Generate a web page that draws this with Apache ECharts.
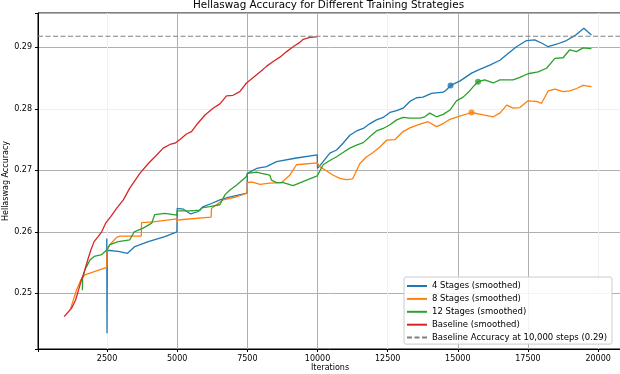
<!DOCTYPE html>
<html>
<head>
<meta charset="utf-8">
<script src="https://cdn.jsdelivr.net/npm/echarts@6/dist/echarts.min.js"></script>
<style>
  html, body { margin: 0; padding: 0; background: #fff; }
  #chart { width: 620px; height: 374px; }
</style>
</head>
<body>
<div id="chart"></div>
<script>
// [iteration, accuracy]
const stage4 = [
  [2490,0.2589],[2500,0.2435],[2510,0.2570],[2900,0.2568],[3230,0.2565],[3490,0.2576],[3970,0.2584],[4560,0.2592],[4990,0.2600],
  [5000,0.2638],[5210,0.2637],[5480,0.2629],[5750,0.2633],[5930,0.2641],[6220,0.2646],[6520,0.2652],[6820,0.2656],[7490,0.2663],
  [7500,0.2695],[7830,0.2703],[8180,0.2706],[8540,0.2714],[9250,0.2720],[9990,0.2725],
  [10000,0.2703],[10200,0.2714],[10440,0.2728],[10680,0.2733],[10910,0.2744],[11150,0.2757],[11390,0.2764],[11630,0.2768],
  [11870,0.2776],[12100,0.2782],[12340,0.2786],[12580,0.2794],[12820,0.2797],[13050,0.2801],[13290,0.2812],[13530,0.2818],
  [13760,0.2819],[14060,0.2825],[14480,0.2827],[14600,0.2831],[14740,0.2838],[15070,0.2845],[15490,0.2858],[15780,0.2864],
  [16140,0.2871],[16500,0.2879],[16790,0.2890],[17090,0.2901],[17450,0.2911],[17740,0.2912],[17980,0.2907],[18220,0.2901],
  [18520,0.2905],[18870,0.2911],[19170,0.2919],[19490,0.2931],[19760,0.2920]
];
const stage8 = [
  [1200,0.2475],[1240,0.2478],[1410,0.2505],[1590,0.2524],[1710,0.2530],[2490,0.2542],
  [2500,0.2570],[2600,0.2579],[2840,0.2591],[2960,0.2593],[3720,0.2593],[3730,0.2615],[4140,0.2616],[4990,0.2621],
  [5000,0.2615],[5010,0.2619],[5210,0.2620],[6210,0.2624],[6220,0.2638],[6460,0.2646],[6640,0.2652],[7120,0.2657],[7490,0.2663],
  [7500,0.2680],[7650,0.2681],[7950,0.2677],[8300,0.2679],[8720,0.2680],[9010,0.2692],[9250,0.2709],[9990,0.2712],
  [10000,0.2714],[10080,0.2706],[10260,0.2701],[10560,0.2692],[10800,0.2687],[11030,0.2685],[11250,0.2686],[11510,0.2711],
  [11750,0.2722],[11980,0.2729],[12220,0.2738],[12460,0.2749],[12760,0.2750],[13050,0.2763],[13290,0.2769],[13650,0.2775],
  [13940,0.2779],[14240,0.2771],[14480,0.2776],[14720,0.2783],[15070,0.2788],[15490,0.2794],[15900,0.2790],[16260,0.2787],
  [16500,0.2793],[16740,0.2806],[16970,0.2801],[17210,0.2802],[17500,0.2813],[17800,0.2812],[17980,0.2809],[18220,0.2829],
  [18460,0.2832],[18750,0.2828],[18990,0.2829],[19230,0.2833],[19460,0.2838],[19760,0.2836]
];
const stage12 = [
  [1620,0.2505],[1630,0.2524],[1710,0.2538],[1890,0.2554],[2040,0.2560],[2310,0.2563],[2480,0.2570],[2600,0.2579],[2900,0.2584],
  [3310,0.2587],[3470,0.2600],[3790,0.2606],[4090,0.2614],[4200,0.2628],[4560,0.2630],[4990,0.2627],
  [5000,0.2634],[5450,0.2634],[5810,0.2635],[5870,0.2639],[6160,0.2641],[6520,0.2644],[6700,0.2660],[6880,0.2668],[7120,0.2676],
  [7470,0.2690],[7500,0.2695],[7830,0.2697],[8010,0.2695],[8300,0.2692],[8360,0.2684],[8540,0.2680],[8780,0.2680],[9130,0.2675],
  [9610,0.2684],[9990,0.2691],
  [10000,0.2692],[10200,0.2709],[10440,0.2716],[10680,0.2722],[10910,0.2729],[11150,0.2736],[11390,0.2741],[11630,0.2745],
  [11870,0.2755],[12100,0.2764],[12340,0.2768],[12580,0.2774],[12820,0.2782],[13050,0.2786],[13290,0.2785],[13650,0.2785],
  [13820,0.2787],[14000,0.2793],[14240,0.2787],[14480,0.2791],[14720,0.2798],[14950,0.2813],[15190,0.2819],[15400,0.2828],
  [15550,0.2836],[15720,0.2844],[15960,0.2847],[16260,0.2842],[16500,0.2847],[16970,0.2847],[17210,0.2851],[17500,0.2857],
  [17860,0.2860],[18160,0.2866],[18460,0.2882],[18750,0.2883],[18990,0.2896],[19230,0.2893],[19460,0.2899],[19760,0.2898]
];
const baseline = [
  [970,0.2462],[1240,0.2476],[1380,0.2489],[1470,0.2503],[1590,0.2522],[1690,0.2535],[1830,0.2557],[1920,0.2570],[2040,0.2584],
  [2180,0.2592],[2310,0.2600],[2450,0.2614],[2640,0.2625],[2840,0.2638],[3080,0.2652],[3310,0.2671],[3670,0.2695],[3970,0.2711],
  [4270,0.2725],[4500,0.2736],[4740,0.2742],[4920,0.2744],[5100,0.2750],[5330,0.2759],[5510,0.2763],[5690,0.2774],[5990,0.2790],
  [6280,0.2801],[6520,0.2808],[6760,0.2821],[6990,0.2822],[7230,0.2828],[7470,0.2842],[7710,0.2851],[7950,0.2860],[8180,0.2869],
  [8420,0.2877],[8660,0.2884],[8900,0.2893],[9130,0.2901],[9370,0.2908],[9490,0.2913],[9730,0.2916],[9970,0.2917]
];
// highlighted points
const dot4 = [[14740,0.2838]];
const dot8 = [[15490,0.2794]];
const dot12 = [[15720,0.2844]];

const baselineAcc = 0.2918;
const xMin = 40, xMax = 20850, xStep = 2500;
const yMin = 0.24094, yMax = 0.29558, yStep = 0.01;

const names = ['4 Stages (smoothed)', '8 Stages (smoothed)', '12 Stages (smoothed)', 'Baseline (smoothed)',
  'Baseline Accuracy at 10,000 steps (0.29)'];
const colors = ['#1f77b4', '#ff7f0e', '#2ca02c', '#d62728', '#808080'];

const solid = '#b0b0b0', faint = '#f0f0f0';
const font = 'DejaVu Sans';

let chart = echarts.init(document.getElementById('chart'));

function lineSeries(name, data, color) {
  return {
    name: name, type: 'line', data: data, symbol: 'none',
    lineStyle: { color: color, width: 1.3 }, itemStyle: { color: color }
  };
}
function dotSeries(name, data, color) {
  return {
    name: name, type: 'scatter', data: data, symbol: 'circle', symbolSize: 6,
    itemStyle: { color: color }, z: 3
  };
}

let option = {
  animation: false,
  title: {
    text: 'Hellaswag Accuracy for Different Training Strategies',
    left: 193, top: 0, padding: 0,
    textStyle: { fontFamily: font, fontSize: 10.4, fontWeight: 'normal', color: '#000' }
  },
  grid: {
    left: 38, right: -2, top: 13, bottom: 25, outerBoundsMode: 'none',
    show: true, borderColor: '#000', borderWidth: 1
  },
  legend: {
    data: names, orient: 'vertical', left: 404, top: 277,
    padding: [4.5, 5, 2, 2], itemGap: 3.9, itemWidth: 20, itemHeight: 8,
    itemStyle: { opacity: 0 },
    backgroundColor: 'rgba(255,255,255,0.85)', borderColor: '#cccccc', borderWidth: 1, borderRadius: 2,
    textStyle: { fontFamily: font, fontSize: 8.5, lineHeight: 8, color: '#000' }
  },
  xAxis: {
    type: 'value', min: xMin, max: xMax, minInterval: xStep, maxInterval: xStep,
    name: 'Iterations', nameLocation: 'middle', nameGap: 15, nameMoveOverlap: false,
    nameTextStyle: { fontFamily: font, fontSize: 8, color: '#000' },
    axisLine: { show: true, lineStyle: { color: '#000', width: 1 } },
    axisTick: { show: true, length: 3, lineStyle: { color: '#000' } },
    axisLabel: {
      fontFamily: font, fontSize: 8, color: '#000', margin: 5.5,
      formatter: v => (v % xStep === 0 && v > 0) ? String(v) : ''
    },
    // colours by tick: min, 2500 ... 20000, max
    splitLine: { show: true, lineStyle: { width: 1,
      color: [solid, faint, solid, solid, solid, faint, solid, solid, faint, solid] } }
  },
  yAxis: {
    type: 'value', min: yMin, max: yMax, minInterval: yStep, maxInterval: yStep,
    name: 'Hellaswag Accuracy', nameLocation: 'middle', nameGap: 28, nameMoveOverlap: false,
    nameTextStyle: { fontFamily: font, fontSize: 8, color: '#000' },
    axisLine: { show: true, lineStyle: { color: '#000', width: 1 } },
    axisTick: { show: true, length: 3, lineStyle: { color: '#000' } },
    axisLabel: {
      fontFamily: font, fontSize: 8, color: '#000', margin: 6,
      formatter: v => Math.abs(v * 100 - Math.round(v * 100)) < 1e-6 ? v.toFixed(2) : ''
    },
    // colours by tick: min, 0.25 ... 0.29, max
    splitLine: { show: true, lineStyle: { width: 1,
      color: [solid, solid, solid, solid, faint, solid, solid] } }
  },
  series: [
    lineSeries(names[0], stage4, colors[0]),
    lineSeries(names[1], stage8, colors[1]),
    lineSeries(names[2], stage12, colors[2]),
    lineSeries(names[3], baseline, colors[3]),
    {
      name: names[4], type: 'line', symbol: 'none',
      data: [[xMin, baselineAcc], [xMax, baselineAcc]],
      lineStyle: { color: colors[4], width: 1, type: [5, 2.5] }, itemStyle: { color: colors[4] }
    },
    dotSeries('dot4', dot4, colors[0]),
    dotSeries('dot8', dot8, colors[1]),
    dotSeries('dot12', dot12, colors[2])
  ]
};

option && chart.setOption(option);
</script>
</body>
</html>
